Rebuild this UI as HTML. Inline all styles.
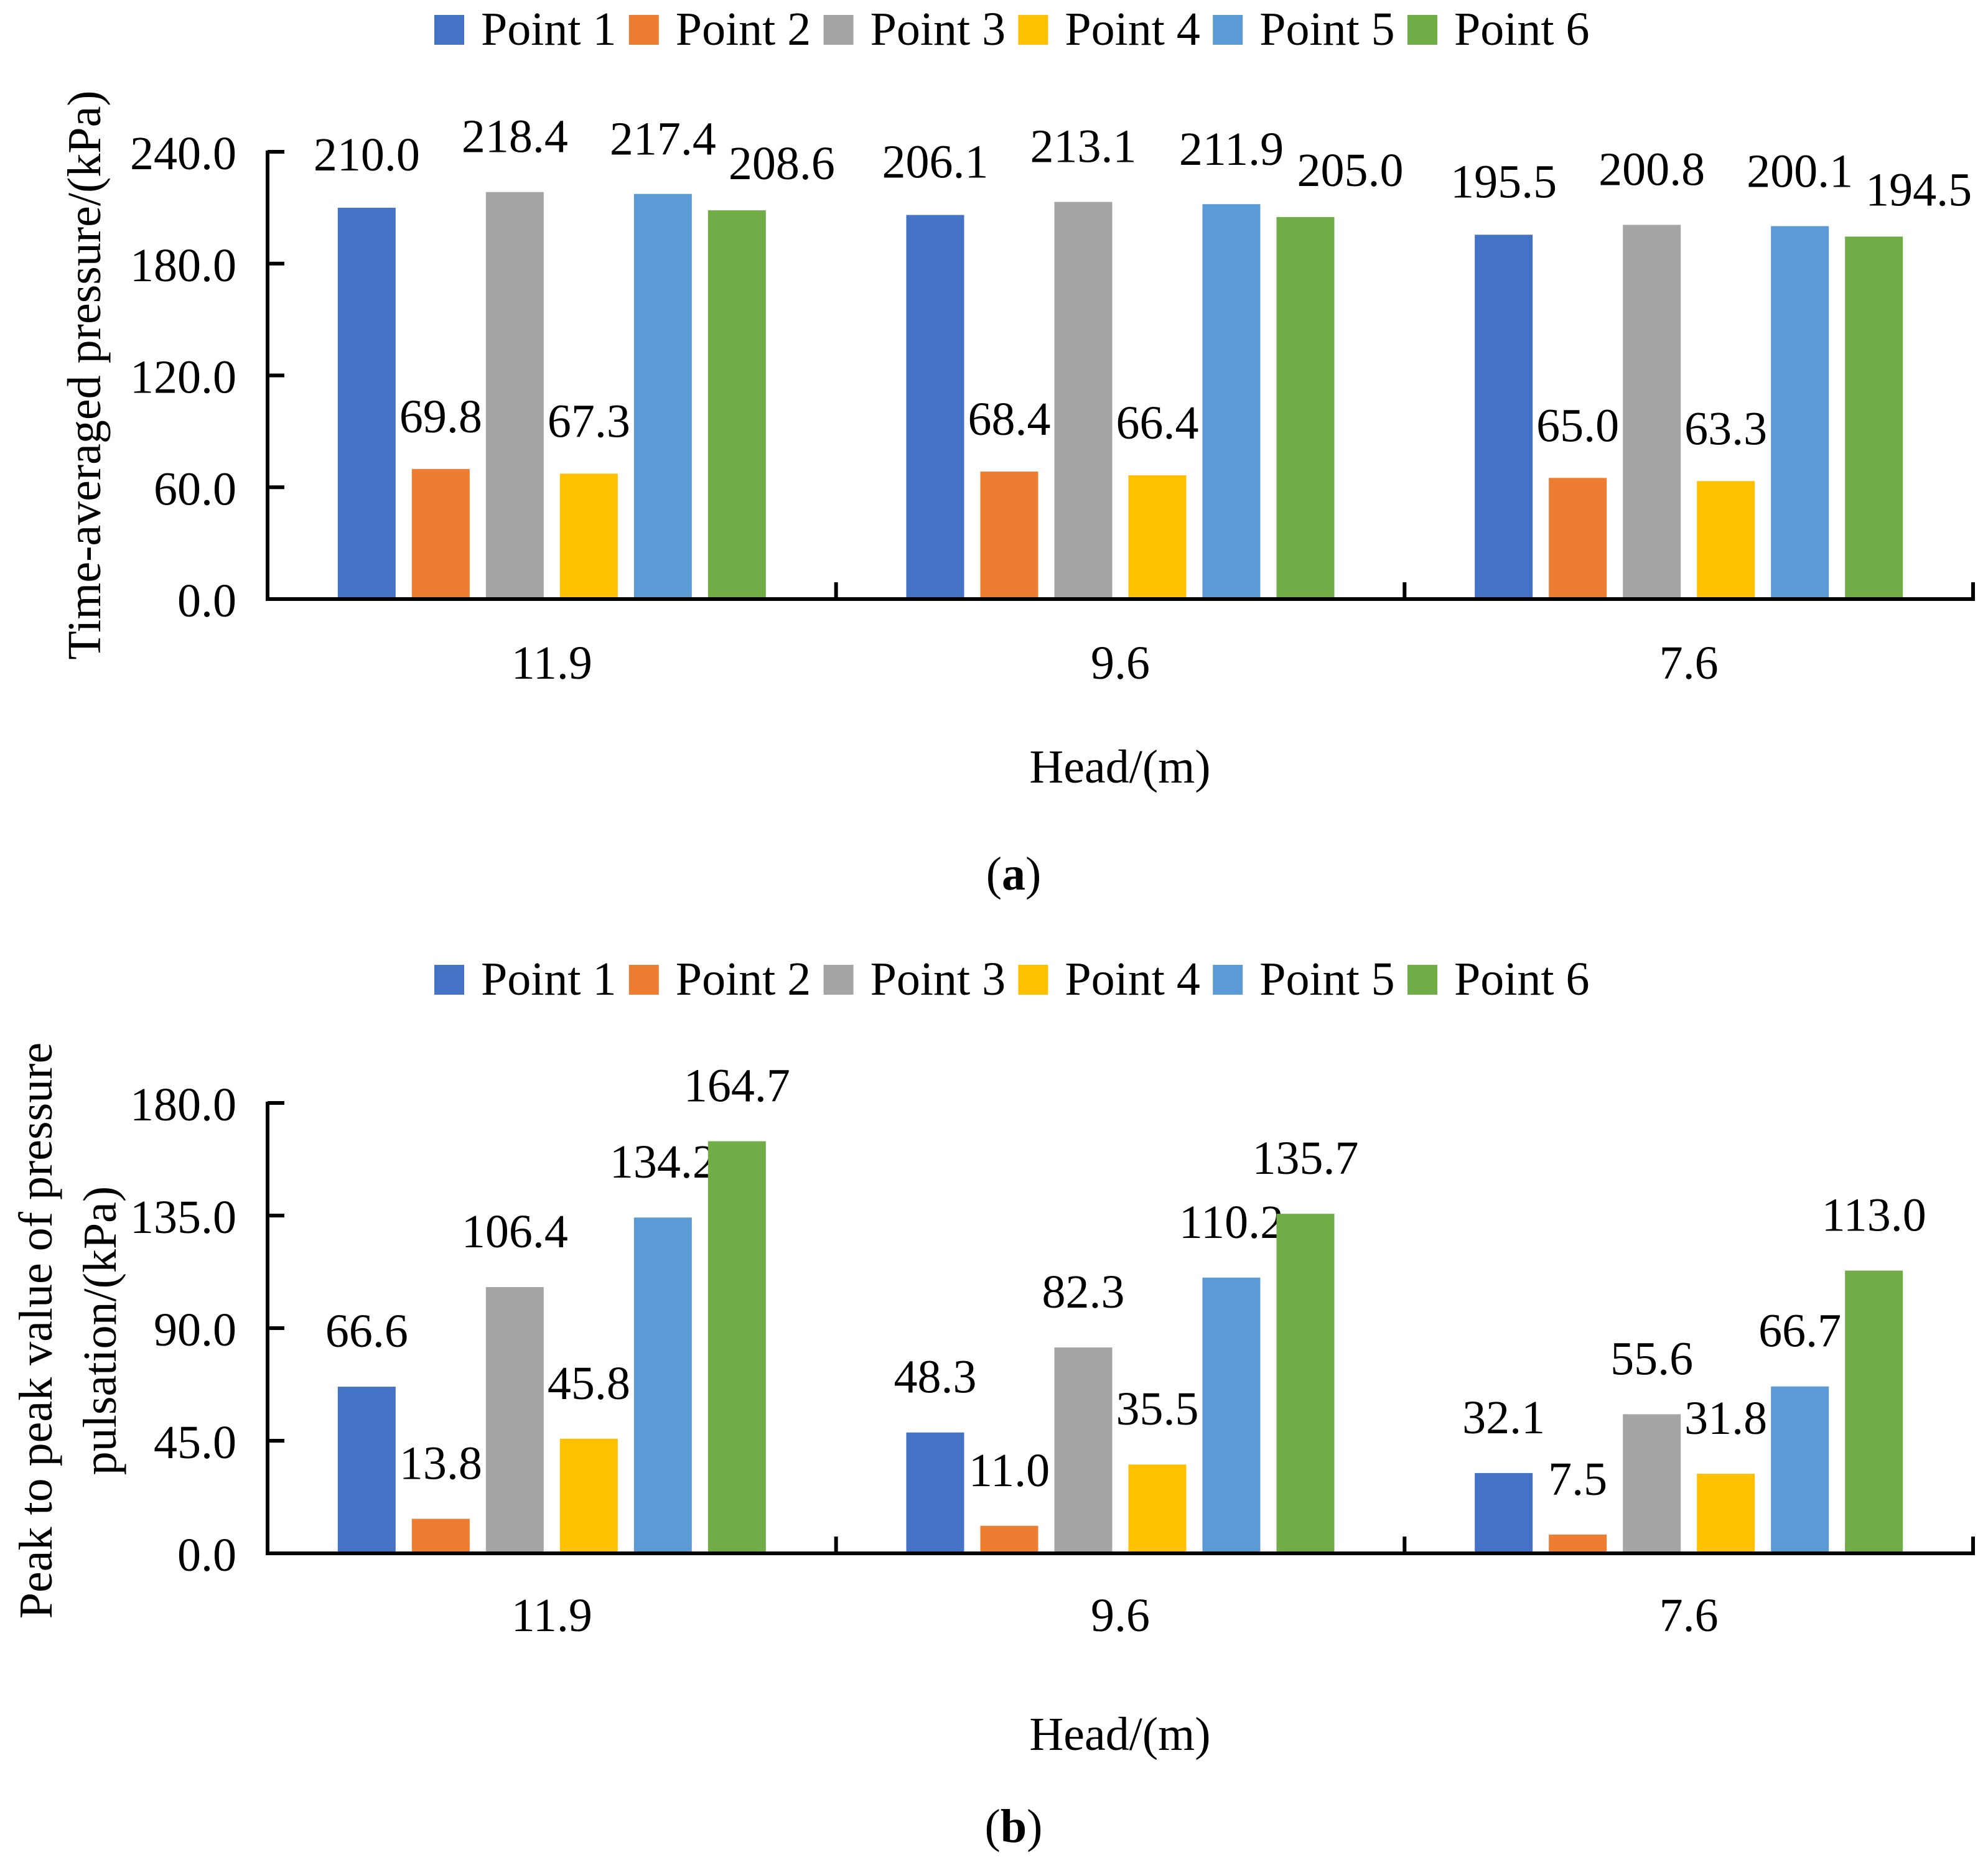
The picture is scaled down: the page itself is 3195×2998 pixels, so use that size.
<!DOCTYPE html>
<html><head><meta charset="utf-8"><style>
html,body{margin:0;padding:0;background:#fff;}
svg{display:block;font-family:"Liberation Serif",serif;}
</style></head><body>
<svg id="fig" width="3195" height="2998" viewBox="0 0 3195 2998" xmlns="http://www.w3.org/2000/svg"></svg>
<script>
const categories = ["11.9", "9.6", "7.6"];
const seriesNames = ["Point 1", "Point 2", "Point 3", "Point 4", "Point 5", "Point 6"];
const colors = ["#4472C4", "#ED7D31", "#A5A5A5", "#FFC000", "#5B9BD5", "#70AD47"];
// chart (a) time-averaged pressure, per series across categories
const avgP1 = [210.0, 206.1, 195.5];
const avgP2 = [69.8, 68.4, 65.0];
const avgP3 = [218.4, 213.1, 200.8];
const avgP4 = [67.3, 66.4, 63.3];
const avgP5 = [217.4, 211.9, 200.1];
const avgP6 = [208.6, 205.0, 194.5];
const ticksA = [0, 60, 120, 180, 240];
// chart (b) peak to peak
const ppP1 = [66.6, 48.3, 32.1];
const ppP2 = [13.8, 11.0, 7.5];
const ppP3 = [106.4, 82.3, 55.6];
const ppP4 = [45.8, 35.5, 31.8];
const ppP5 = [134.2, 110.2, 66.7];
const ppP6 = [164.7, 135.7, 113.0];
const ticksB = [0, 45, 90, 135, 180];

const NS = "http://www.w3.org/2000/svg";
const svg = document.getElementById("fig");
function mk(tag, attrs, parent) {
  const e = document.createElementNS(NS, tag);
  for (const k in attrs) e.setAttribute(k, attrs[k]);
  (parent || svg).appendChild(e);
  return e;
}
const FS = 76;
const X0 = 430, X1 = 3171;

function chart(opts) {
  const g = mk("g", {});
  
  
  const yBase = opts.yBase, yTop = opts.yTop, vmax = opts.ticks[opts.ticks.length - 1];
  const yScale = v => yBase - (v / vmax) * (yBase - yTop);
  const catW = (X1 - X0) / categories.length;
  const barW = 93, pitch = 119;
  const groupW = pitch * seriesNames.length - (pitch - barW);
  const xBar = (ci, si) => X0 + ci * catW + (catW - groupW) / 2 + si * pitch;

  seriesNames.forEach((n, i) => {
    const lx = 698 + i * 312.8;
    const sq = mk("rect", {x: lx, y: opts.legY, width: 48, height: 48, fill: colors[i]}, g);
    
    
    const t = mk("text", {x: lx + 75, y: opts.legY + 48, "font-size": FS}, g);
    t.textContent = n;
    
    
  });

  opts.series.forEach((vals, si) => {
    vals.forEach((v, ci) => {
      const x = xBar(ci, si), y = yScale(v);
      const r = mk("rect", {x: x, y: y, width: barW, height: yBase - y, fill: colors[si]}, g);
      
      
      const t = mk("text", {x: x + barW / 2 + opts.labDx[si], y: y - opts.labGap[si], "font-size": FS, "text-anchor": "middle"}, g);
      t.textContent = v.toFixed(1);
      
      
    });
  });

  const ya = mk("line", {x1: X0, y1: yTop - 2, x2: X0, y2: yBase + 3, stroke: "#000", "stroke-width": 6}, g);
  
  
  const xa = mk("line", {x1: X0 - 3, y1: yBase, x2: X1 + 3, y2: yBase, stroke: "#000", "stroke-width": 6}, g);
  
  
  opts.ticks.forEach(tv => {
    const y = yScale(tv);
    const tk = mk("line", {x1: X0, y1: y, x2: X0 + 27, y2: y, stroke: "#000", "stroke-width": 6}, g);
    
    
    const t = mk("text", {x: 380, y: y + 28, "font-size": FS, "text-anchor": "end"}, g);
    t.textContent = tv.toFixed(1);
    
    
  });
  for (let i = 1; i <= categories.length; i++) {
    const x = X0 + i * catW;
    const tk = mk("line", {x1: x, y1: yBase - 27, x2: x, y2: yBase, stroke: "#000", "stroke-width": 6}, g);
    
    
  }
  categories.forEach((c, ci) => {
    const t = mk("text", {x: X0 + (ci + 0.5) * catW, y: opts.xLabY, "font-size": FS, "text-anchor": "middle"}, g);
    t.textContent = c;
    
    
  });
  const xt = mk("text", {x: 1800, y: opts.xTitleY, "font-size": FS, "text-anchor": "middle"}, g);
  xt.textContent = "Head/(m)";
  
  

  opts.yTitle.forEach((line, i) => {
    const cx = opts.yTitleX[i], cy = opts.yTitleCY;
    const t = mk("text", {x: cx, y: cy, "font-size": FS, "text-anchor": "middle", transform: "rotate(-90 " + cx + " " + cy + ")", dy: "0.33em"}, g);
    t.textContent = line;
    
    
  });

  const cap = mk("text", {x: 1629, y: opts.capY, "font-size": FS, "text-anchor": "middle"}, g);
  
  
  const b1 = mk("tspan", {}, cap); b1.textContent = "(";
  const b2 = mk("tspan", {"font-weight": "bold"}, cap); b2.textContent = opts.cap;
  const b3 = mk("tspan", {}, cap); b3.textContent = ")";
}

chart({name: "chart-a", yBase: 963, yTop: 244, ticks: ticksA,
  series: [avgP1, avgP2, avgP3, avgP4, avgP5, avgP6],
  legY: 24, labGap: [60, 59, 64, 59, 63, 50], labDx: [0, 0, 0, 0, 0, 72],
  xLabY: 1091, xTitleY: 1258, capY: 1430, cap: "a",
  yTitle: ["Time-averaged pressure/(kPa)"], yTitleX: [136], yTitleCY: 603});
chart({name: "chart-b", yBase: 2497, yTop: 1773, ticks: ticksB,
  series: [ppP1, ppP2, ppP3, ppP4, ppP5, ppP6],
  legY: 1551, labGap: [64, 64, 64, 64, 64, 64], labDx: [0, 0, 0, 0, 0, 0],
  xLabY: 2622, xTitleY: 2813, capY: 2961, cap: "b",
  yTitle: ["Peak to peak value of pressure", "pulsation/(kPa)"], yTitleX: [58, 161], yTitleCY: 2139});
</script>
</body></html>
